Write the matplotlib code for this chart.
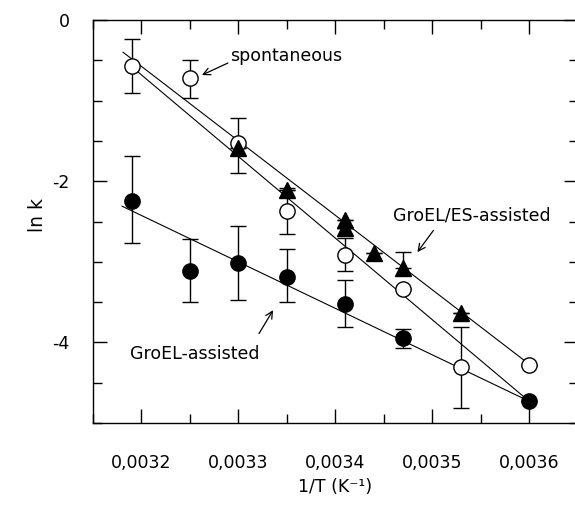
import numpy as np
import matplotlib
matplotlib.use('Agg')
import matplotlib.pyplot as plt
from matplotlib.ticker import MultipleLocator

# Data (1/T in K^-1, ln k)
# spontaneous refolding (open circles)
spont_x = [0.00319, 0.00325, 0.0033, 0.00335, 0.00341, 0.00347, 0.00353, 0.0036]
spont_y = [-0.57, -0.72, -1.53, -2.37, -2.92, -3.34, -4.30, -4.28]
spont_hi = [-0.24, -0.50, -1.22, -2.09, -2.70, -3.34, -3.81, -4.28]
spont_lo = [-0.91, -0.97, -1.90, -2.65, -3.12, -3.34, -4.81, -4.28]

# GroEL/ES-assisted (filled triangles)
es_x = [0.0033, 0.00335, 0.00341, 0.00341, 0.00344, 0.00347, 0.00353]
es_y = [-1.59, -2.11, -2.48, -2.58, -2.89, -3.08, -3.64]
es_hi = [-1.59, -2.11, -2.48, -2.58, -2.89, -2.88, -3.64]
es_lo = [-1.59, -2.11, -2.48, -2.58, -2.89, -3.08, -3.64]

# GroEL-assisted (filled circles)
groel_x = [0.00319, 0.00325, 0.0033, 0.00335, 0.00341, 0.00347, 0.0036]
groel_y = [-2.24, -3.11, -3.01, -3.19, -3.52, -3.94, -4.73]
groel_hi = [-1.69, -2.72, -2.55, -2.84, -3.23, -3.83, -4.73]
groel_lo = [-2.77, -3.50, -3.47, -3.50, -3.81, -4.07, -4.73]

# fitted straight lines (end points)
fit_es_x, fit_es_y = [0.003181, 0.0036], [-0.40, -4.27]
fit_spont_x, fit_spont_y = [0.003189, 0.0036], [-0.57, -4.73]
fit_groel_x, fit_groel_y = [0.003180, 0.0036], [-2.31, -4.73]

x_ticks = [0.0032, 0.0033, 0.0034, 0.0035, 0.0036]
x_tick_labels = ['0,0032', '0,0033', '0,0034', '0,0035', '0,0036']
y_ticks = [0, -2, -4]
y_tick_labels = ['0', '-2', '-4']

plt.rcParams['font.family'] = 'DejaVu Sans'
plt.rcParams['font.size'] = 12.5

fig = plt.figure(figsize=(5.75, 5.05), dpi=100)
# right edge of the frame falls just outside the picture, as in the scan
ax = fig.add_axes([93 / 575, 82 / 505, 484.6 / 575, 403 / 505])

# fit lines under the markers
for fx, fy in [(fit_es_x, fit_es_y), (fit_spont_x, fit_spont_y), (fit_groel_x, fit_groel_y)]:
    ax.plot(fx, fy, color='k', lw=0.8, zorder=1)

# error bars, drawn below the markers
def bars(x, y, hi, lo):
    y = np.array(y)
    yerr = [y - np.array(lo), np.array(hi) - y]
    ax.errorbar(x, y, yerr=yerr, fmt='none', ecolor='k', elinewidth=1.0,
                capsize=5.5, capthick=1.0, zorder=2)

bars(spont_x, spont_y, spont_hi, spont_lo)
bars(es_x, es_y, es_hi, es_lo)
bars(groel_x, groel_y, groel_hi, groel_lo)

ax.plot(spont_x, spont_y, 'o', ms=11, mfc='white', mec='k', mew=1.0, ls='none', zorder=3)
ax.plot(groel_x, groel_y, 'o', ms=11, mfc='k', mec='k', ls='none', zorder=4)
ax.plot(es_x, es_y, '^', ms=12, mfc='k', mec='k', ls='none', zorder=5)

# labels with arrows
arrow = dict(arrowstyle='->', color='k', lw=0.9, shrinkA=0, shrinkB=0)
ax.text(0.0032913, -0.509, 'spontaneous', ha='left', va='baseline')
ax.annotate('', xy=(0.0032624, -0.683), xytext=(0.0032892, -0.534), arrowprops=arrow)
ax.text(0.0034599, -2.42, 'GroEL/ES-assisted', ha='left', va='center')
ax.annotate('', xy=(0.0034847, -2.88), xytext=(0.0035013, -2.61), arrowprops=arrow)
ax.text(0.0031879, -4.20, 'GroEL-assisted', ha='left', va='baseline')
ax.annotate('', xy=(0.0033358, -3.60), xytext=(0.0033213, -3.89), arrowprops=arrow)

ax.set_xlim(0.00315, 0.00365)
ax.set_ylim(-5, 0)
ax.set_xticks(x_ticks)
ax.set_xticklabels(x_tick_labels)
ax.set_yticks(y_ticks)
ax.set_yticklabels(y_tick_labels)
ax.xaxis.set_minor_locator(MultipleLocator(0.00005))
ax.yaxis.set_minor_locator(MultipleLocator(0.5))
ax.tick_params(which='both', direction='in', top=True, right=True, width=1.0)
ax.tick_params(which='major', length=10)
ax.tick_params(which='minor', length=6.5)
ax.tick_params(axis='x', which='major', pad=22)
ax.tick_params(axis='y', which='major', pad=17)
for s in ax.spines.values():
    s.set_linewidth(1.0)
ax.spines['right'].set_visible(False)

ax.set_xlabel('1/T (K⁻¹)')
ax.set_ylabel('ln k', fontsize=13.5)
ax.xaxis.set_label_coords(0.4994, -0.1365)
ax.yaxis.set_label_coords(-0.095, 0.516)

fig.savefig('out.png', dpi=100)
